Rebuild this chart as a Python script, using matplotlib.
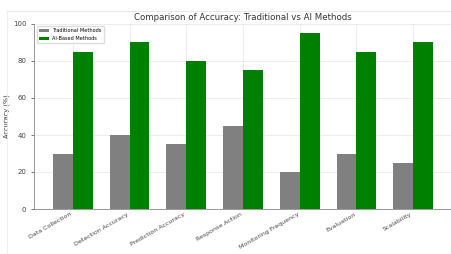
import matplotlib.pyplot as plt
import numpy as np

# Categorías y valores de precisión
categorias = ['Data Collection', 'Detection Accuracy', 'Prediction Accuracy',
              'Response Action', 'Monitoring Frequency', 'Evaluation', 'Scalability']
tradicional = [30, 40, 35, 45, 20, 30, 25]
ia = [85, 90, 80, 75, 95, 85, 90]

x = np.arange(len(categorias))
ancho = 0.35

fig = plt.figure(figsize=(4.51, 2.54), dpi=100)
ax = fig.add_axes([34 / 451, 45 / 254, 418 / 451, 185 / 254])

ax.bar(x - ancho / 2, tradicional, ancho, color='gray', label='Traditional Methods', zorder=3)
ax.bar(x + ancho / 2, ia, ancho, color='green', label='AI-Based Methods', zorder=3)

ax.set_ylim(0, 100)
ax.set_xticks(x)
ax.set_xticklabels(categorias, rotation=30, ha='right', fontsize=4.5, color='#444444')
ax.tick_params(axis='y', labelsize=5, colors='#444444', length=2, width=0.5)
ax.tick_params(axis='x', length=0, pad=2)
ax.set_ylabel('Accuracy (%)', fontsize=4.8, color='#333333', labelpad=2)
ax.set_title('Comparison of Accuracy: Traditional vs AI Methods', fontsize=6.2,
             color='#333333', pad=3)
ax.grid(True, color='#e6e6e6', linewidth=0.5, zorder=0)
for lado in ['top', 'right']:
    ax.spines[lado].set_visible(False)
for lado in ['left', 'bottom']:
    ax.spines[lado].set_color('#888888')
    ax.spines[lado].set_linewidth(0.6)

ax.legend(loc='upper left', fontsize=3.6, frameon=True, framealpha=1,
          edgecolor='#dddddd', handlelength=2, handleheight=0.6)

# Borde tenue de la imagen original
fig.add_artist(plt.Line2D([7 / 451, 1], [1 - 11 / 254, 1 - 11 / 254],
                          color='#e4e4e4', linewidth=0.6))
fig.add_artist(plt.Line2D([7 / 451, 7 / 451], [0, 1 - 11 / 254],
                          color='#eeeeee', linewidth=0.6))

fig.savefig('out.png', dpi=100)
